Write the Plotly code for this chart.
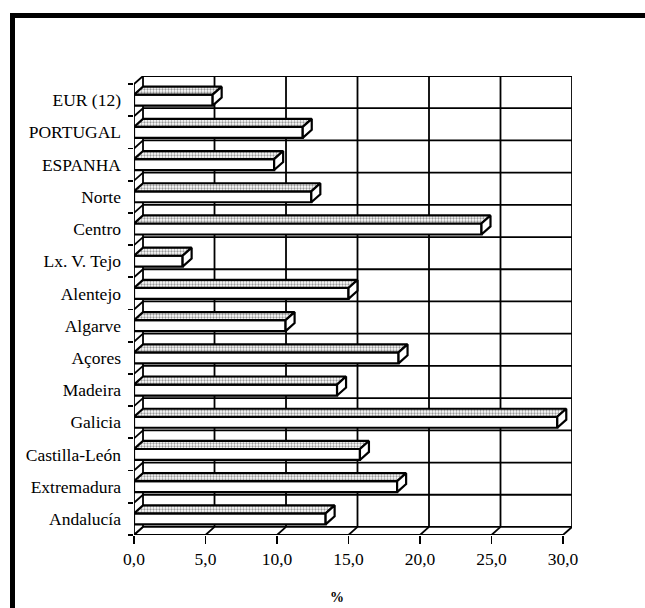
import plotly.graph_objects as go

# ---------------- data ----------------
categories = ["EUR (12)", "PORTUGAL", "ESPANHA", "Norte", "Centro", "Lx. V. Tejo",
              "Alentejo", "Algarve", "Açores", "Madeira", "Galicia", "Castilla-León",
              "Extremadura", "Andalucía"]
values = [5.5, 11.8, 9.8, 12.4, 24.3, 3.4, 15.0, 10.6, 18.5, 14.2, 29.6, 15.8, 18.4, 13.4]
x_ticks = [0, 5, 10, 15, 20, 25, 30]
x_tick_labels = ["0,0", "5,0", "10,0", "15,0", "20,0", "25,0", "30,0"]
axis_title = "%"

# ---------------- layout constants ----------------
W, H = 645, 608
L, R, T, B = 134, 73, 76, 73
X_MAX = 30
DX = 0.63      # 3-D depth along x (data units)
DY = 0.25      # 3-D depth along y (category units)
BAR_W = 0.34
FONT = "Liberation Serif"
FS = 17.5

n = len(categories)
ypos = [n - 1 - i for i in range(n)]
y_lo, y_hi = -0.5, n - 0.5 + DY
x_lo, x_hi = 0, X_MAX + DX
pw, ph = W - L - R, H - T - B


def px_x(p):
    return (p - L) / pw


def px_y(p):
    return (H - B - p) / ph


fig = go.Figure()

# front faces of bars
fig.add_trace(go.Bar(
    x=values, y=ypos, orientation="h", width=BAR_W, base=0,
    marker=dict(color="white", line=dict(color="black", width=2.2)),
    hoverinfo="skip", showlegend=False))

# top faces and end caps (3-D look)
top_x, top_y, cap_x, cap_y = [], [], [], []
for v, y in zip(values, ypos):
    yt = y + BAR_W / 2
    yb = y - BAR_W / 2
    top_x += [0, v, v + DX, DX, 0, None]
    top_y += [yt, yt, yt + DY, yt + DY, yt, None]
    cap_x += [v, v + DX, v + DX, v, v, None]
    cap_y += [yb, yb + DY, yt + DY, yt, yb, None]

fig.add_trace(go.Scatter(
    x=top_x, y=top_y, mode="lines", fill="toself",
    fillcolor="#d0d0d0",
    fillpattern=dict(shape=".", fgcolor="#333333", bgcolor="white", size=3, solidity=0.45),
    line=dict(color="black", width=2.2), hoverinfo="skip", showlegend=False))
fig.add_trace(go.Scatter(
    x=cap_x, y=cap_y, mode="lines", fill="toself", fillcolor="white",
    line=dict(color="black", width=2.2), hoverinfo="skip", showlegend=False))

# ---------------- 3-D frame (walls, floor, grid) ----------------
shapes = []


def seg(x0, y0, x1, y1, width=1.8):
    shapes.append(dict(type="line", xref="x", yref="y", x0=x0, y0=y0, x1=x1, y1=y1,
                       line=dict(color="black", width=width), layer="below"))


for k in range(n + 1):
    yb = k - 0.5
    seg(DX, yb + DY, X_MAX + DX, yb + DY)      # back wall horizontal grid
    seg(0, yb, DX, yb + DY)                    # left wall diagonals
for t in x_ticks:
    seg(t + DX, -0.5 + DY, t + DX, n - 0.5 + DY)   # back wall vertical grid
    seg(t, -0.5, t + DX, -0.5 + DY)                # floor diagonals
seg(0, -0.5, 0, n - 0.5)                # front left edge
seg(0, -0.5, X_MAX, -0.5, 2)            # floor front edge

# outer frame of the page (thick left and top lines)
shapes.append(dict(type="line", xref="paper", yref="paper",
                   x0=px_x(12.5), y0=px_y(13), x1=px_x(12.5), y1=px_y(H + 5),
                   line=dict(color="black", width=5), layer="above"))
shapes.append(dict(type="line", xref="paper", yref="paper",
                   x0=px_x(10), y0=px_y(15.5), x1=px_x(W + 5), y1=px_y(15.5),
                   line=dict(color="black", width=5), layer="above"))

fig.update_layout(
    width=W, height=H,
    margin=dict(l=L, r=R, t=T, b=B, pad=0),
    paper_bgcolor="white", plot_bgcolor="white",
    font=dict(family=FONT, size=FS, color="black"),
    shapes=shapes,
    showlegend=False,
    bargap=0,
    xaxis=dict(range=[x_lo, x_hi], tickvals=x_ticks, ticktext=x_tick_labels,
               ticks="outside", ticklen=8, tickwidth=1.8, tickcolor="black",
               showgrid=False, zeroline=False, showline=False,
               tickfont=dict(family=FONT, size=FS, color="black"), fixedrange=True),
    yaxis=dict(range=[y_lo, y_hi], tickvals=ypos, ticktext=categories,
               ticks="", showgrid=False, zeroline=False, showline=False,
               ticklabelstandoff=12,
               minor=dict(tickvals=[k - 0.5 for k in range(n + 1)], ticks="outside",
                          ticklen=5, tickwidth=1.8, tickcolor="black", showgrid=False),
               tickfont=dict(family=FONT, size=FS, color="black"), fixedrange=True),
    annotations=[dict(text="<b>" + axis_title + "</b>", xref="paper", yref="paper",
                      x=px_x(337), y=px_y(597), showarrow=False,
                      xanchor="center", yanchor="middle",
                      font=dict(family=FONT, size=14, color="black"))],
)

fig.write_html("out.html",
               config={"displayModeBar": False, "staticPlot": True},
               post_script="document.body.style.margin='0';document.body.style.overflow='hidden';")
